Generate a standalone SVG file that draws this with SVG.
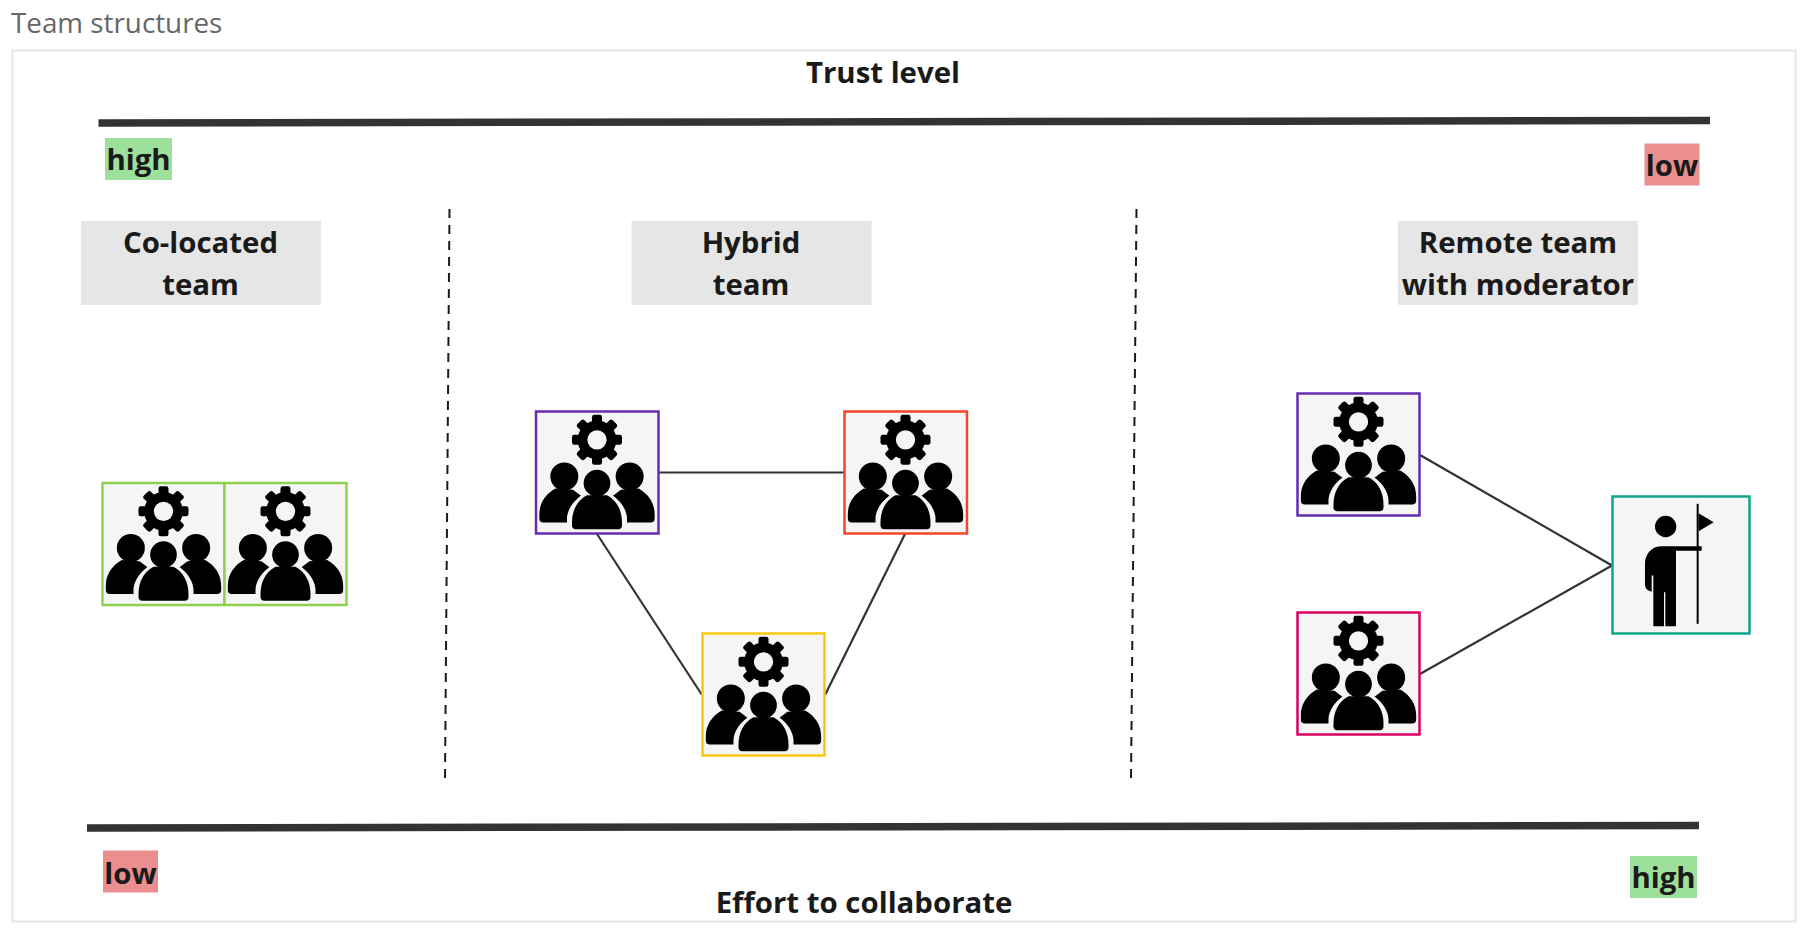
<svg xmlns="http://www.w3.org/2000/svg" width="1810" height="936" viewBox="0 0 1810 936">
<style>
text{font-family:"Open Sans","Liberation Sans",sans-serif;font-weight:700;fill:#1a1a1a;font-size:29.400px;text-anchor:middle}
.title{font-weight:400;fill:#666;font-size:27.800px;text-anchor:start}
.bar{stroke:#333;stroke-width:7.500;fill:none}
.dash{stroke:#1a1a1a;stroke-width:2;stroke-dasharray:9 7;fill:none}
.conn{stroke:#333;stroke-width:2.200;fill:none}
.box{fill:#f5f5f5;stroke-width:2.500}
.hi{fill:#9ce09b}.lo{fill:#ea8e8e}.hd{fill:#e6e6e6}
</style>
<defs>
<g id="team-icon" transform="translate(-37 -37)">
<path d="M95 268C65 285 47 312 47 345V358Q47 370 59 370H130V355C132 330 150 305 172 290L148 272Z"/>
<circle cx="122" cy="232" r="42"/>
<path d="M345 268C375 285 393 312 393 345V358Q393 370 381 370H310V355C308 330 290 305 268 290L292 272Z"/>
<circle cx="318" cy="232" r="42"/>
<circle cx="220" cy="252" r="42" stroke="#f5f5f5" stroke-width="8"/>
<path d="M190 288C160 303 145 335 145 370V378Q145 390 157 390H283Q295 390 295 378V370C295 335 280 303 250 288Z" stroke="#f5f5f5" stroke-width="16" paint-order="stroke"/>
<circle cx="220" cy="252" r="40"/>
<g transform="translate(220 122)">
<circle r="58"/>
<rect x="-15" y="-75" width="30" height="150" rx="7"/>
<rect x="-15" y="-75" width="30" height="150" rx="7" transform="rotate(90)"/>
<rect x="-15" y="-75" width="30" height="150" rx="7" transform="rotate(45)"/>
<rect x="-15" y="-75" width="30" height="150" rx="7" transform="rotate(-45)"/>
<circle r="29" fill="#f5f5f5"/>
</g>
</g>
</defs>
<rect width="1810" height="936" fill="#fff"/>
<text class="title" x="11" y="33">Team structures</text>
<rect x="12.500" y="50.500" width="1783" height="871" fill="#fff" stroke="#e6e6e6" stroke-width="2"/>
<g id="connectors">
<line class="bar" x1="98.500" y1="123" x2="1710" y2="120.500"/>
<line class="bar" x1="87" y1="828" x2="1699" y2="825.500"/>
<line class="dash" x1="449.500" y1="209" x2="445" y2="779"/>
<line class="dash" x1="1136.500" y1="209" x2="1131" y2="779"/>
<line class="conn" x1="659" y1="472.500" x2="844" y2="472.500"/>
<line class="conn" x1="597" y1="534" x2="702" y2="695"/>
<line class="conn" x1="905" y1="534" x2="825" y2="695"/>
<line class="conn" x1="1420" y1="455" x2="1612" y2="565.500"/>
<line class="conn" x1="1420" y1="674" x2="1612" y2="565.500"/>
</g>
<g id="label-trust"><text x="883" y="83">Trust level</text></g>
<g id="label-effort"><text x="864" y="913">Effort to collaborate</text></g>
<g id="tag-high-top"><rect class="hi" x="105" y="138" width="67" height="42"/><text x="138.500" y="170">high</text></g>
<g id="tag-low-top"><rect class="lo" x="1644.500" y="143.500" width="55" height="42"/><text x="1672" y="176">low</text></g>
<g id="tag-low-bottom"><rect class="lo" x="103" y="850.500" width="55" height="42"/><text x="130.500" y="884">low</text></g>
<g id="tag-high-bottom"><rect class="hi" x="1630" y="856" width="67" height="42"/><text x="1663.500" y="888">high</text></g>
<g id="head-colocated"><rect class="hd" x="81" y="221" width="240" height="84"/><text x="200.500" y="253">Co-located</text><text x="200.500" y="295">team</text></g>
<g id="head-hybrid"><rect class="hd" x="631.500" y="221" width="240" height="84"/><text x="751" y="253">Hybrid</text><text x="751" y="295">team</text></g>
<g id="head-remote"><rect class="hd" x="1398" y="221" width="240" height="84"/><text x="1518" y="253">Remote team</text><text x="1518" y="295">with moderator</text></g>
<g id="colocated-1"><rect class="box" stroke="#8fd14f" x="102.500" y="483" width="122" height="122"/><use href="#team-icon" transform="translate(102.500 483) scale(.3333)"/></g>
<g id="colocated-2"><rect class="box" stroke="#8fd14f" x="224.500" y="483" width="122" height="122"/><use href="#team-icon" transform="translate(224.500 483) scale(.3333)"/></g>
<g id="hybrid-purple"><rect class="box" stroke="#652cb3" x="536" y="411.500" width="122.500" height="122"/><use href="#team-icon" transform="translate(536 411.500) scale(.3333)"/></g>
<g id="hybrid-red"><rect class="box" stroke="#f24726" x="844.500" y="411.500" width="122.500" height="122"/><use href="#team-icon" transform="translate(844.500 411.500) scale(.3333)"/></g>
<g id="hybrid-yellow"><rect class="box" stroke="#fac710" x="702.500" y="633.500" width="122" height="122"/><use href="#team-icon" transform="translate(702.500 633.500) scale(.3333)"/></g>
<g id="remote-purple"><rect class="box" stroke="#652cb3" x="1297.500" y="393.500" width="122" height="122"/><use href="#team-icon" transform="translate(1297.500 393.500) scale(.3333)"/></g>
<g id="remote-pink"><rect class="box" stroke="#da0063" x="1297.500" y="612.500" width="122" height="122"/><use href="#team-icon" transform="translate(1297.500 612.500) scale(.3333)"/></g>
<g id="moderator"><rect class="box" stroke="#0ca789" x="1612.500" y="496.500" width="137" height="137"/>
<g transform="translate(1590 480.500) scale(.3333)">
<circle cx="227" cy="138" r="32"/>
<path d="M335 197V211H258V437H226V335H222V437H190V333Q168 333 165 315V250C165 220 185 197 215 197Z"/>
<path d="M185 285V333H190V285Z" fill="#f5f5f5"/>
<rect x="320" y="70" width="6" height="360"/>
<path d="M326 98L371 125L326 152Z"/>
</g></g>
</svg>
